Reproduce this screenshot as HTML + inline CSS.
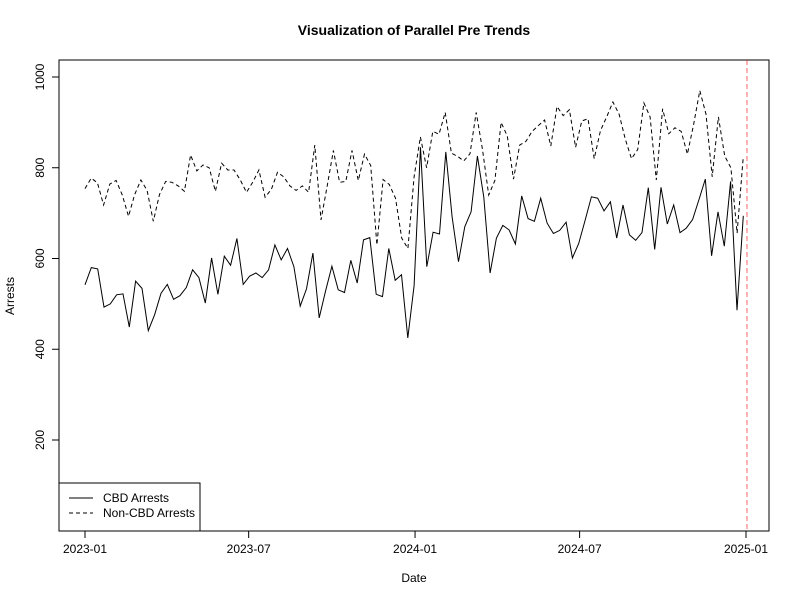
<!DOCTYPE html>
<html><head><meta charset="utf-8"><style>body{margin:0;background:#fff}svg{font-family:"Liberation Sans",Arial,sans-serif}</style></head>
<body>
<svg id="chart" width="800" height="600" xmlns="http://www.w3.org/2000/svg"></svg>
<script>
const cbd=[542,580,577,493,500,520,522,449,550,534,441,476,523,543,510,518,536,575,558,502,601,521,605,585,644,543,561,568,558,575,630,597,622,582,495,533,612,469,528,583,531,525,596,546,641,646,521,516,622,552,564,425,540,845,582,658,654,835,692,593,670,703,826,735,568,645,673,663,632,738,688,682,733,678,655,662,680,601,633,683,736,733,705,725,645,718,652,640,657,756,620,757,676,718,657,667,686,730,775,606,703,627,770,486,694];
const noncbd=[754,777,767,718,764,772,740,693,741,773,750,682,741,770,768,760,748,828,793,806,800,748,810,795,795,773,746,768,795,735,752,790,780,760,750,760,746,850,685,760,838,768,770,838,772,830,805,630,774,763,733,645,622,780,868,800,880,874,922,832,825,815,831,922,840,740,772,900,870,775,850,858,880,893,905,848,935,915,928,845,903,908,820,882,912,945,918,863,820,840,943,912,773,930,875,888,880,830,895,970,918,780,912,826,800,656,825];
const yTicks=[200,400,600,800,1000];
const xTickLabels=["2023-01","2023-07","2024-01","2024-07","2025-01"];
const xTickDays=[0,181,365,547,731];
const cutoffDay=731;
const lastDay=728;
const NS="http://www.w3.org/2000/svg";
const svg=document.getElementById('chart');
const X=d=>85+d*(661/731);
const Y=v=>440-(v-200)*(363/800);
function el(t,a,p){const e=document.createElementNS(NS,t);for(const k in a)e.setAttribute(k,a[k]);(p||svg).appendChild(e);return e;}
function txt(s,a){const e=el('text',a);e.textContent=s;return e;}
let e=el('rect',{x:59,y:60,width:710,height:471,fill:'none',stroke:'#000'});

e=txt('Visualization of Parallel Pre Trends',{x:414,y:35,'text-anchor':'middle','font-size':14,'font-weight':'bold'});

e=txt('Date',{x:414,y:582,'text-anchor':'middle','font-size':12});

e=txt('Arrests',{x:14,y:296,'text-anchor':'middle','font-size':12,transform:'rotate(-90 14 296)'});

el('line',{x1:59,x2:59,y1:Y(200),y2:Y(1000),stroke:'#000'});
yTicks.forEach(v=>{el('line',{x1:52,x2:59,y1:Y(v),y2:Y(v),stroke:'#000'});
 const t=txt(String(v),{x:44,y:Y(v),'text-anchor':'middle','font-size':12,transform:`rotate(-90 44 ${Y(v)})`});
 });
el('line',{x1:X(0),x2:X(731),y1:531,y2:531,stroke:'#000'});
xTickDays.forEach((d,i)=>{el('line',{x1:X(d),x2:X(d),y1:531,y2:538,stroke:'#000'});
 const t=txt(xTickLabels[i],{x:X(d),y:553,'text-anchor':'middle','font-size':12});
 });
function line(arr,dash,name){const n=arr.length;const pts=arr.map((v,i)=>X(i*lastDay/(n-1)).toFixed(1)+','+Y(v).toFixed(1)).join(' ');
 const p=el('polyline',{points:pts,fill:'none',stroke:'#000','stroke-width':1,'stroke-dasharray':dash});
 }
line(cbd,'none','cbd-arrests-line');
line(noncbd,'4,3','non-cbd-arrests-line');
e=el('line',{x1:X(cutoffDay)+1,x2:X(cutoffDay)+1,y1:60,y2:531,stroke:'#ff0000','stroke-dasharray':'5,3','stroke-opacity':0.6});

const g=el('g',{});
el('rect',{x:59,y:483,width:141,height:48,fill:'#fff',stroke:'#000'},g);
el('line',{x1:69,x2:93,y1:498,y2:498,stroke:'#000'},g);
el('line',{x1:69,x2:93,y1:513,y2:513,stroke:'#000','stroke-dasharray':'4,3'},g);
e=txt('CBD Arrests',{x:103,y:502,'font-size':12});g.appendChild(e);
e=txt('Non-CBD Arrests',{x:103,y:517,'font-size':12});g.appendChild(e);
</script>
</body></html>
